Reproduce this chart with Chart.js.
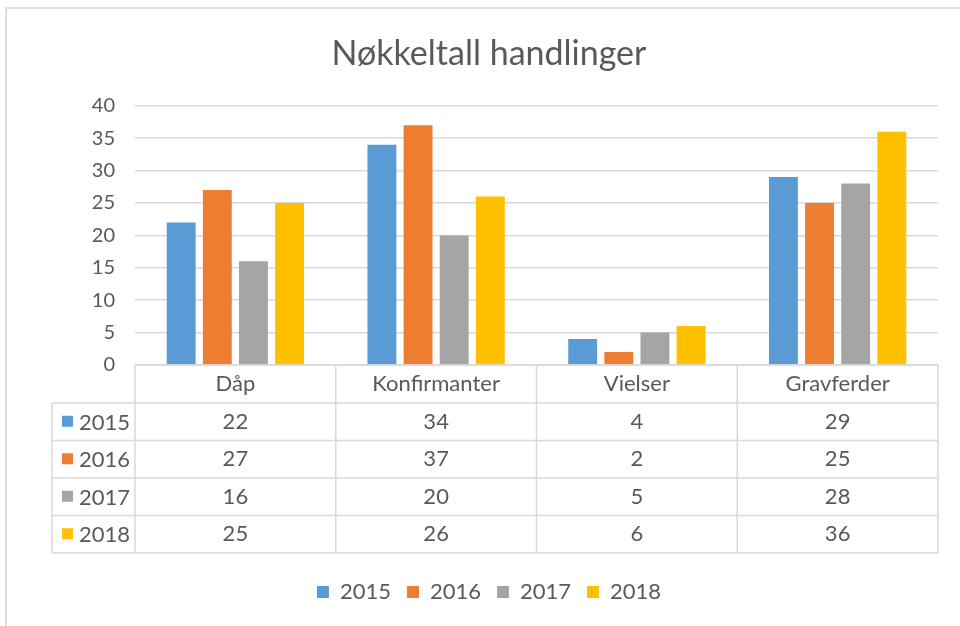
<!DOCTYPE html>
<html>
<head>
<meta charset="utf-8">
<title>Nøkkeltall handlinger</title>
<script src="https://cdn.jsdelivr.net/npm/chart.js@4/dist/chart.umd.min.js"></script>
<style>
  html, body { margin: 0; padding: 0; background: #fff; }
  #wrap { width: 960px; height: 626px; position: relative; }
</style>
</head>
<body>
<div id="wrap"><canvas id="chart" width="960" height="626"></canvas></div>
<script>
/* ---------- data ---------- */
const categories = ['Dåp', 'Konfirmanter', 'Vielser', 'Gravferder'];
const years      = ['2015', '2016', '2017', '2018'];
const v2015 = [22, 34, 4, 29];
const v2016 = [27, 37, 2, 25];
const v2017 = [16, 20, 5, 28];
const v2018 = [25, 26, 6, 36];
const yTicks = [0, 5, 10, 15, 20, 25, 30, 35, 40];

const colors = ['#5B9BD5', '#ED7D31', '#A5A5A5', '#FFC000'];
const series = [v2015, v2016, v2017, v2018];
const TXT = '#595959';
const LINE = '#d9d9d9';
const FONT = 'Lato, "Open Sans", sans-serif';

// rammen rundt diagrammet (bare topp og venstre er synlig i originalen)
const framePlugin = {
  id: 'frame',
  beforeDraw(chart) {
    const c = chart.ctx;
    c.save();
    c.strokeStyle = '#d4d4d4';
    c.lineWidth = 1.5;
    c.beginPath();
    c.moveTo(6, chart.height);
    c.lineTo(6, 8);
    c.lineTo(chart.width, 8);
    c.stroke();
    c.restore();
  }
};

// datatabell under x-aksen
const tablePlugin = {
  id: 'dataTable',
  afterDraw(chart) {
    const c = chart.ctx;
    const xs = chart.scales.x;
    const area = chart.chartArea;
    const n = categories.length;
    const catW = (xs.right - xs.left) / n;
    const top = area.bottom;
    const headH = 38;
    const rowH = 37.5;
    const leftX = 52;
    const bottom = top + headH + rowH * years.length;

    c.save();
    c.strokeStyle = LINE;
    c.lineWidth = 1.5;
    c.beginPath();
    // horisontale linjer
    c.moveTo(xs.left, top); c.lineTo(xs.right, top);
    for (let r = 0; r <= years.length; r++) {
      const y = top + headH + r * rowH;
      c.moveTo(leftX, y); c.lineTo(xs.right, y);
    }
    // vertikale linjer
    c.moveTo(leftX, top + headH); c.lineTo(leftX, bottom);
    for (let i = 0; i <= n; i++) {
      const x = i < n ? xs.getPixelForValue(i) - catW / 2 : xs.right;
      c.moveTo(x, top); c.lineTo(x, bottom);
    }
    c.stroke();

    c.font = '22px ' + FONT;
    c.fillStyle = TXT;
    c.textBaseline = 'middle';
    c.textAlign = 'center';
    categories.forEach((cat, i) => {
      const cx = xs.getPixelForValue(i);
      c.fillText(cat, cx, top + headH / 2);
      series.forEach((s, r) => {
        c.fillText(String(s[i]), cx, top + headH + r * rowH + rowH / 2);
      });
    });

    // radoverskrifter med fargeboks
    c.textAlign = 'left';
    years.forEach((yr, r) => {
      const cy = top + headH + r * rowH + rowH / 2;
      c.fillStyle = colors[r];
      c.fillRect(leftX + 10, cy - 6, 11, 11);
      c.fillStyle = TXT;
      c.fillText(yr, leftX + 27, cy + 1);
    });
    c.restore();
  }
};

new Chart(document.getElementById('chart'), {
  type: 'bar',
  data: {
    labels: categories,
    datasets: years.map((yr, i) => ({
      label: yr,
      data: series[i],
      backgroundColor: colors[i],
      borderWidth: 0,
      categoryPercentage: 0.72,
      barPercentage: 0.8
    }))
  },
  options: {
    responsive: false,
    animation: false,
    layout: { padding: { left: 40, right: 22, top: 0, bottom: 13 } },
    plugins: {
      title: {
        display: true,
        text: 'Nøkkeltall handlinger',
        color: TXT,
        font: { family: FONT, size: 34, weight: 'normal' },
        padding: { top: 34, bottom: 31 }
      },
      legend: {
        position: 'bottom',
        labels: {
          color: TXT,
          font: { family: FONT, size: 22 },
          boxWidth: 12,
          boxHeight: 12,
          padding: 16
        }
      },
      tooltip: { enabled: false }
    },
    scales: {
      x: {
        grid: { display: false },
        border: { display: false },
        ticks: { display: false },
        afterFit: (s) => { s.height = 200; }
      },
      y: {
        min: 0,
        max: 40,
        afterBuildTicks: (s) => { s.ticks = yTicks.map(v => ({ value: v })); },
        grid: { color: LINE, lineWidth: 1.5, drawTicks: false },
        border: { display: false },
        ticks: { color: TXT, font: { family: FONT, size: 20 }, padding: 20 },
        afterFit: (s) => { s.width = 95; }
      }
    }
  },
  plugins: [framePlugin, tablePlugin]
});
</script>
</body>
</html>
